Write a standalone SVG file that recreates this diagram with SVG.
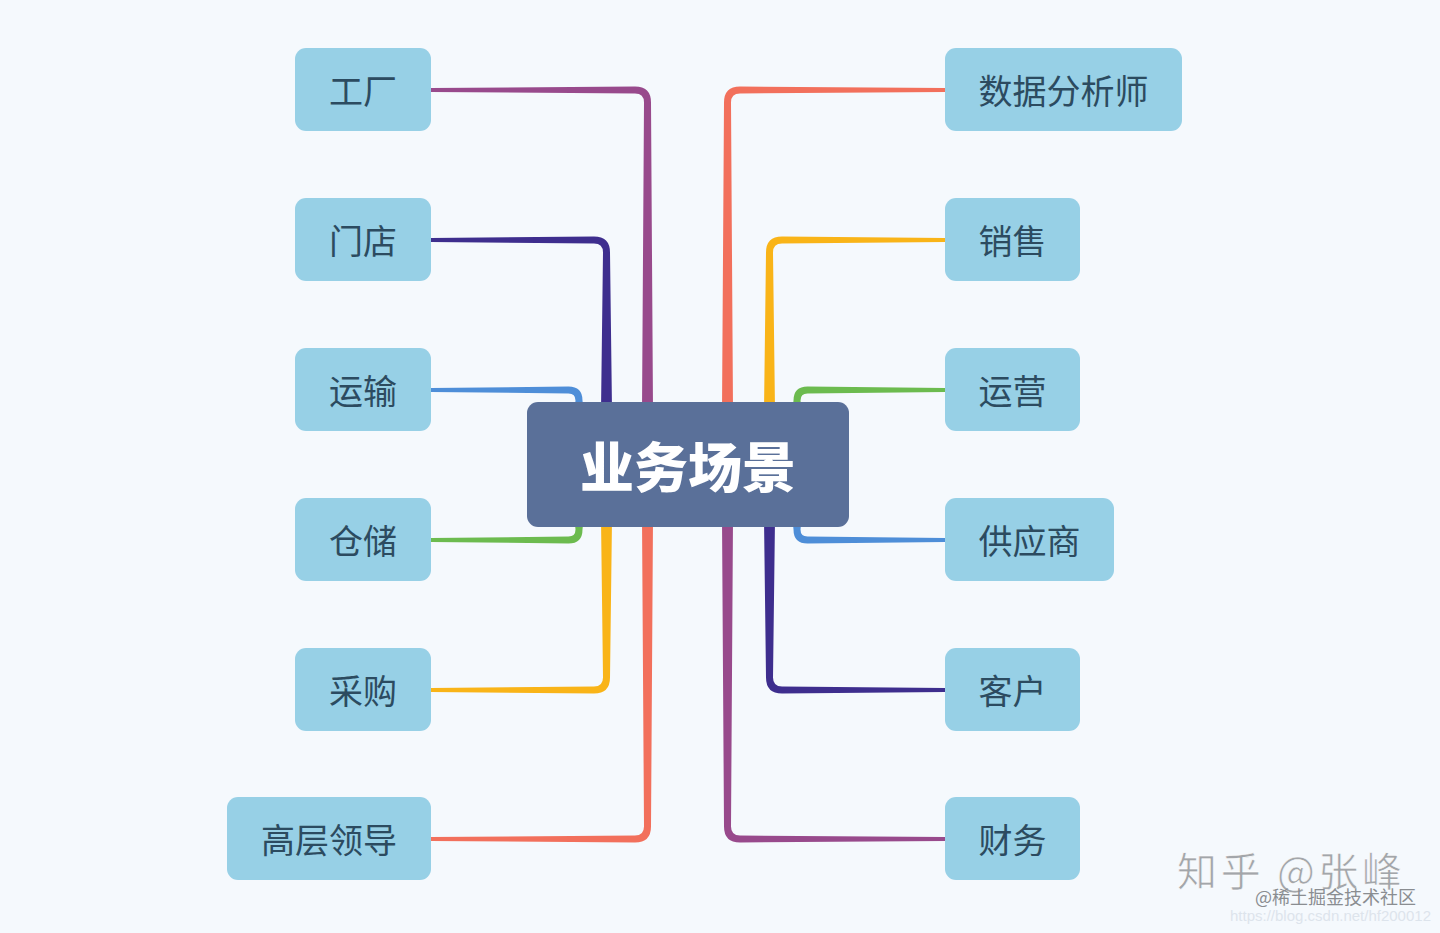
<svg xmlns="http://www.w3.org/2000/svg" width="1440" height="933" viewBox="0 0 1440 933">
<style>
.bg{fill:#f5f9fd}
.leaf rect{fill:#97d0e6}
.leaf text{font-family:"Noto Sans CJK SC","Noto Sans",sans-serif;font-size:34px;fill:#2c4b60;text-anchor:middle;dominant-baseline:central}
.root rect{fill:#5a7099}
.root text{font-family:"Noto Sans CJK SC",sans-serif;font-size:54px;font-weight:900;fill:#ffffff;text-anchor:middle;dominant-baseline:central}
.purple{fill:#984a8c}.navy{fill:#3e2e8e}.blue{fill:#4e8ed8}.green{fill:#6cbb4f}.yellow{fill:#f9b418}.salmon{fill:#f2705c}
.wm{font-family:"Noto Sans CJK SC",sans-serif}
</style>
<rect class="bg" x="0" y="0" width="1440" height="933"/>
<g id="connectors">
<path class="purple" d="M431,88 L635,86.5 Q651,86.5 651,102.5 L653,410 L642,410 L644,102.5 Q644,93.5 635,93.5 L431,92 Z"/>
<path class="navy" d="M431,238 L594,236.5 Q610,236.5 610,252.5 L612,410 L601,410 L603,252.5 Q603,243.5 594,243.5 L431,242 Z"/>
<path class="blue" d="M431,388 L568.5,386.5 Q582.5,386.5 582.5,400.5 L583.5,410 L574.5,410 L575.5,400.5 Q575.5,393.5 568.5,393.5 L431,392 Z"/>
<path class="green" d="M431,542 L568.5,543.5 Q582.5,543.5 582.5,529.5 L583.5,519 L574.5,519 L575.5,529.5 Q575.5,536.5 568.5,536.5 L431,538 Z"/>
<path class="yellow" d="M431,692 L594,693.5 Q610,693.5 610,677.5 L612,519 L601,519 L603,677.5 Q603,686.5 594,686.5 L431,688 Z"/>
<path class="salmon" d="M431,841 L635,842.5 Q651,842.5 651,826.5 L653,519 L642,519 L644,826.5 Q644,835.5 635,835.5 L431,837 Z"/>
<path class="salmon" d="M945,88 L740,86.5 Q724,86.5 724,102.5 L722,410 L733,410 L731,102.5 Q731,93.5 740,93.5 L945,92 Z"/>
<path class="yellow" d="M945,238 L782,236.5 Q766,236.5 766,252.5 L764,410 L775,410 L773,252.5 Q773,243.5 782,243.5 L945,242 Z"/>
<path class="green" d="M945,388 L807.5,386.5 Q793.5,386.5 793.5,400.5 L792.5,410 L801.5,410 L800.5,400.5 Q800.5,393.5 807.5,393.5 L945,392 Z"/>
<path class="blue" d="M945,542 L807.5,543.5 Q793.5,543.5 793.5,529.5 L792.5,519 L801.5,519 L800.5,529.5 Q800.5,536.5 807.5,536.5 L945,538 Z"/>
<path class="navy" d="M945,692 L782,693.5 Q766,693.5 766,677.5 L764,519 L775,519 L773,677.5 Q773,686.5 782,686.5 L945,688 Z"/>
<path class="purple" d="M945,841 L740,842.5 Q724,842.5 724,826.5 L722,519 L733,519 L731,826.5 Q731,835.5 740,835.5 L945,837 Z"/>
</g>
<g id="root" class="root"><rect x="527" y="402" width="322" height="125" rx="11"/><text x="688" y="464">业务场景</text></g>
<g id="n-gongchang" class="leaf"><rect x="295" y="48" width="136" height="83" rx="11"/><text x="363" y="89.5">工厂</text></g>
<g id="n-mendian" class="leaf"><rect x="295" y="198" width="136" height="83" rx="11"/><text x="363" y="239.5">门店</text></g>
<g id="n-yunshu" class="leaf"><rect x="295" y="348" width="136" height="83" rx="11"/><text x="363" y="389.5">运输</text></g>
<g id="n-cangchu" class="leaf"><rect x="295" y="498" width="136" height="83" rx="11"/><text x="363" y="539.5">仓储</text></g>
<g id="n-caigou" class="leaf"><rect x="295" y="648" width="136" height="83" rx="11"/><text x="363" y="689.5">采购</text></g>
<g id="n-gaoceng" class="leaf"><rect x="227" y="797" width="204" height="83" rx="11"/><text x="329" y="838.5">高层领导</text></g>
<g id="n-shuju" class="leaf"><rect x="945" y="48" width="237" height="83" rx="11"/><text x="1063.5" y="89.5">数据分析师</text></g>
<g id="n-xiaoshou" class="leaf"><rect x="945" y="198" width="135" height="83" rx="11"/><text x="1012.5" y="239.5">销售</text></g>
<g id="n-yunying" class="leaf"><rect x="945" y="348" width="135" height="83" rx="11"/><text x="1012.5" y="389.5">运营</text></g>
<g id="n-gongying" class="leaf"><rect x="945" y="498" width="169" height="83" rx="11"/><text x="1029.5" y="539.5">供应商</text></g>
<g id="n-kehu" class="leaf"><rect x="945" y="648" width="135" height="83" rx="11"/><text x="1012.5" y="689.5">客户</text></g>
<g id="n-caiwu" class="leaf"><rect x="945" y="797" width="135" height="83" rx="11"/><text x="1012.5" y="838.5">财务</text></g>
<g id="watermark" class="wm">
<text x="1177" y="886" font-size="40" fill="#a3a6aa" stroke="#ffffff" stroke-width="0.6" textLength="225" lengthAdjust="spacing">知乎 @张峰</text>
<text x="1255" y="904" font-size="18" fill="#8a8d91">@稀土掘金技术社区</text>
<text x="1230" y="921" font-size="15" fill="#dde4ec" font-family="Liberation Sans,sans-serif">https://blog.csdn.net/hf200012</text>
</g>
</svg>
